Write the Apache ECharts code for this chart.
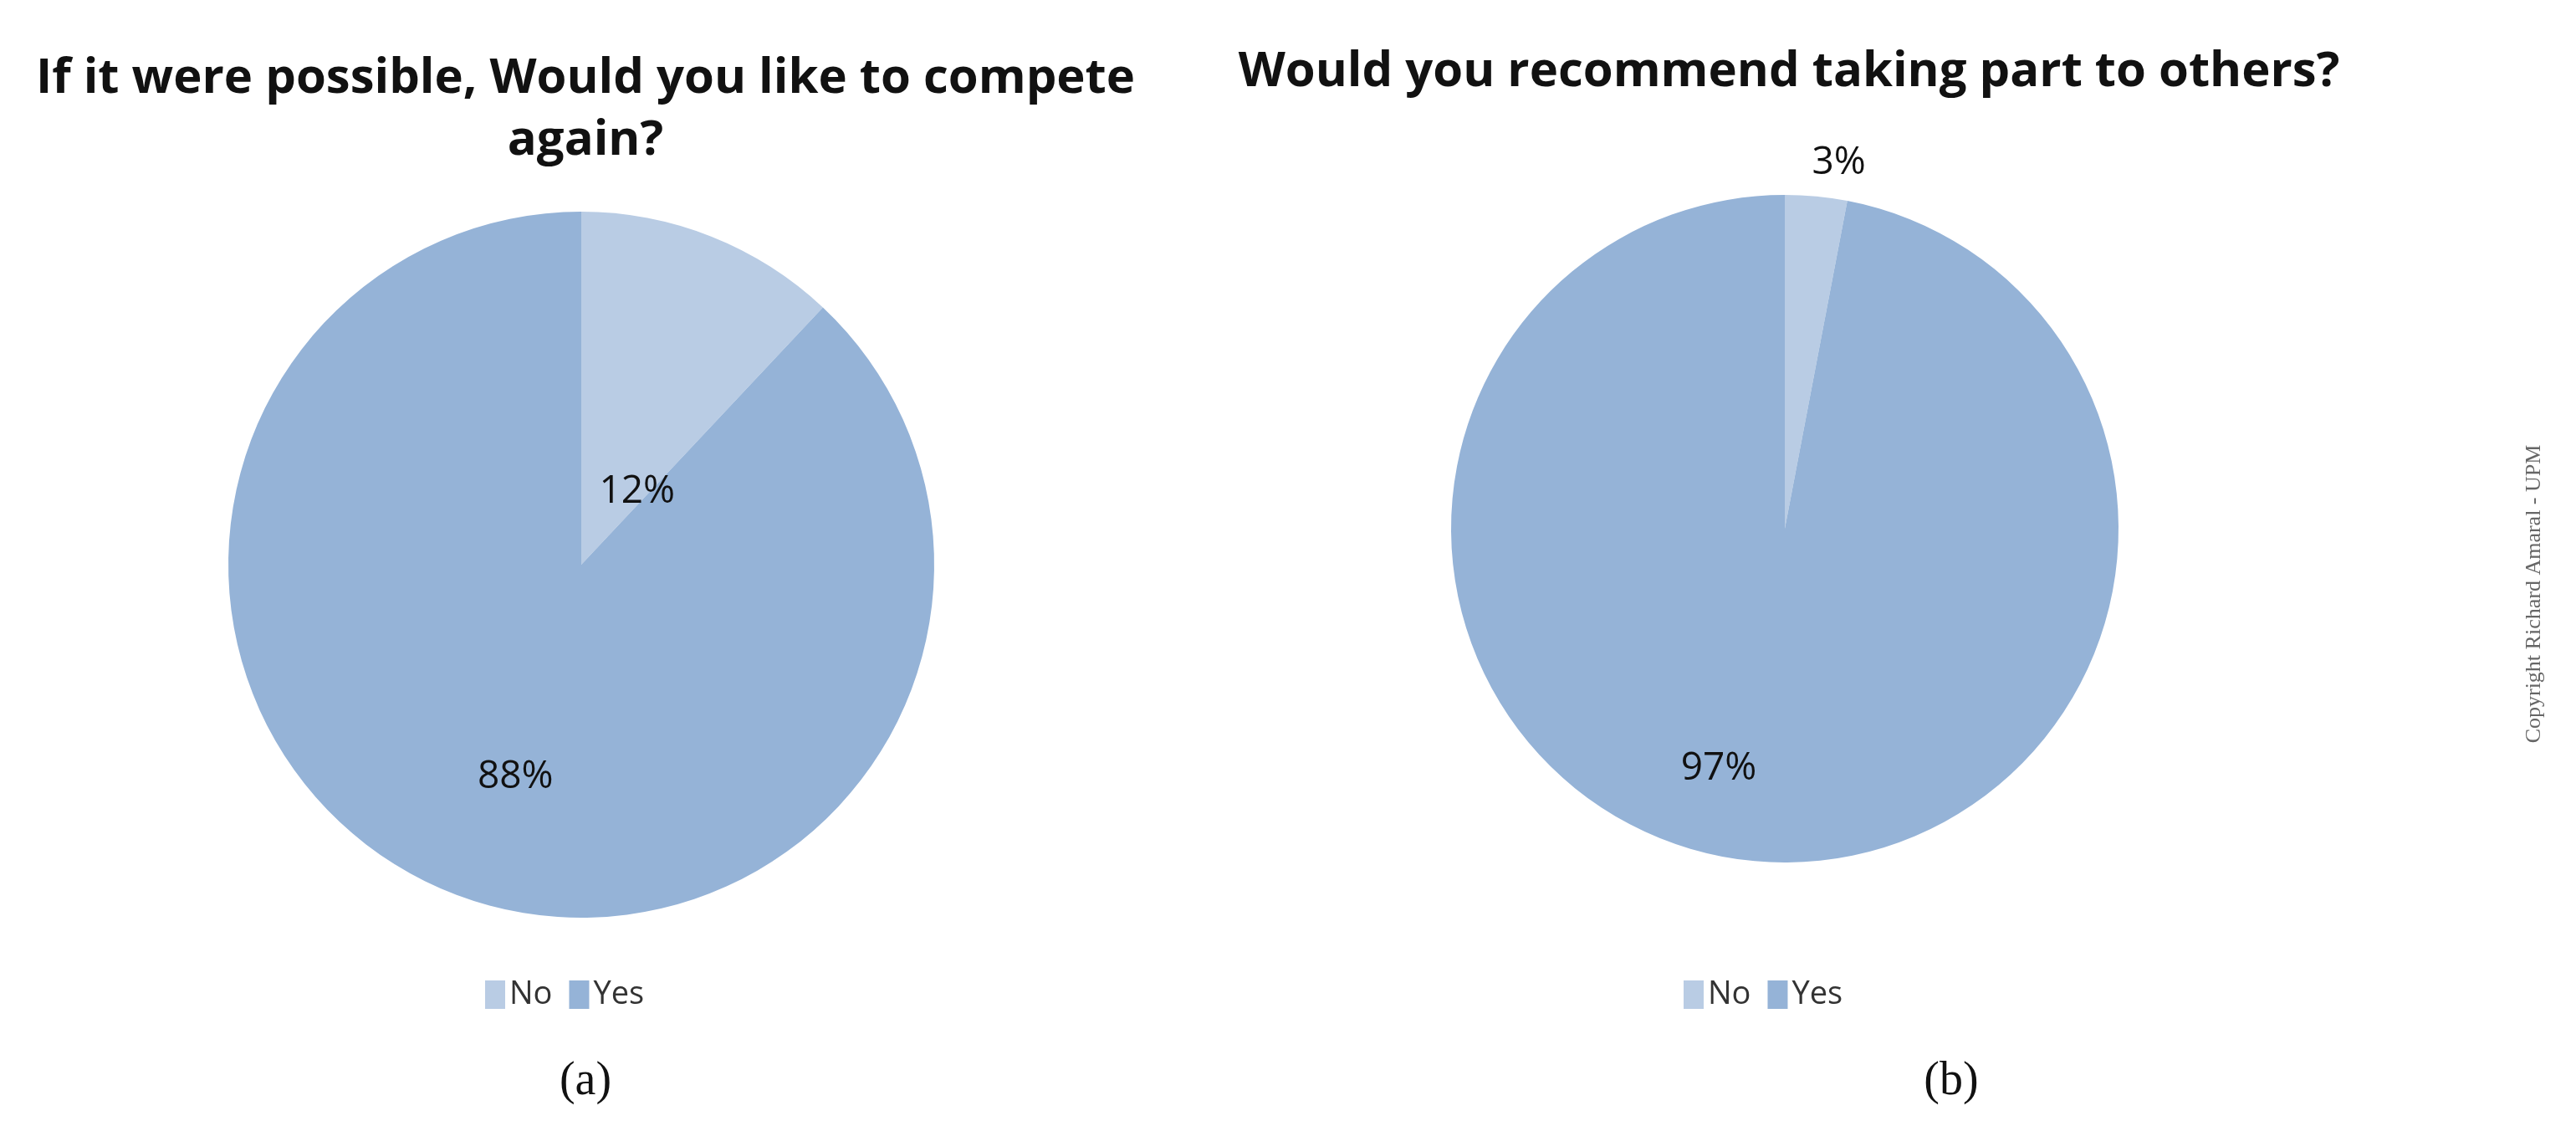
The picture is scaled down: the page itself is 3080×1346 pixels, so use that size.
<!DOCTYPE html>
<html lang="en" style="height: 100%">
<head>
  <meta charset="utf-8">
</head>
<body style="height: 100%; margin: 0; background: #fff">
  <div id="container" style="height: 100%"></div>
  <script type="text/javascript" src="https://cdn.jsdelivr.net/npm/echarts@6/dist/echarts.min.js"></script>
  <script type="text/javascript">
    var categories = ['No', 'Yes'];
    var competeAgain = [12, 88];
    var recommend = [3, 97];
    var colors = ['#b9cce4', '#95b3d7'];

    var dom = document.getElementById('container');
    var myChart = echarts.init(dom, null, { renderer: 'canvas' });

    var labelFont = { fontFamily: 'Open Sans', fontSize: 46, color: '#111' };

    function buildData(values, offsets, positions) {
      return categories.map(function (name, i) {
        return {
          name: name,
          value: values[i],
          itemStyle: { color: colors[i] },
          label: Object.assign({ show: true, position: positions[i], offset: offsets[i], formatter: '{c}%' }, labelFont)
        };
      });
    }

    var option = {
      animation: false,
      title: [
        {
          text: 'If it were possible, Would you like to compete\nagain?',
          left: 695, top: 52, textAlign: 'center',
          textStyle: { fontFamily: 'Open Sans', fontWeight: 'bold', fontSize: 58, lineHeight: 74, color: '#111' }
        },
        {
          text: 'Would you recommend taking part to others?',
          left: 2134, top: 52, textAlign: 'center',
          textStyle: { fontFamily: 'Open Sans', fontWeight: 'bold', fontSize: 58, color: '#111' }
        },
        {
          text: '(a)', left: 695, top: 1260, textAlign: 'center',
          textStyle: { fontFamily: 'Liberation Serif', fontWeight: 'normal', fontSize: 56, color: '#111' }
        },
        {
          text: '(b)', left: 2328, top: 1260, textAlign: 'center',
          textStyle: { fontFamily: 'Liberation Serif', fontWeight: 'normal', fontSize: 56, color: '#111' }
        }
      ],
      graphic: [{
        type: 'text', x: 3030, y: 710, rotation: Math.PI / 2,
        style: { text: 'Copyright Richard Amaral - UPM', font: '26px "Liberation Serif"', fill: '#666', align: 'center', verticalAlign: 'middle' }
      }],
      legend: [
        {
          data: categories, left: 575, top: 1165, orient: 'horizontal',
          itemWidth: 24, itemHeight: 34, itemGap: 20, icon: 'rect',
          textStyle: { fontFamily: 'Open Sans', fontSize: 38, color: '#333' }
        },
        {
          data: categories, left: 2008, top: 1165, orient: 'horizontal',
          itemWidth: 24, itemHeight: 34, itemGap: 20, icon: 'rect',
          textStyle: { fontFamily: 'Open Sans', fontSize: 38, color: '#333' }
        }
      ],
      series: [
        {
          type: 'pie', center: [695, 675], radius: 422,
          startAngle: 90, clockwise: true,
          labelLine: { show: false },
          data: buildData(competeAgain, [[-12, 112], [0, 55]], ['inside', 'inside'])
        },
        {
          type: 'pie', center: [2134, 632], radius: 399,
          startAngle: 90, clockwise: true,
          labelLine: { show: false, length: 0, length2: 0 },
          data: buildData(recommend, [[-10, -40], [-60, 85]], ['outside', 'inside'])
        }
      ]
    };
    myChart.setOption(option);
    window.addEventListener('resize', myChart.resize);
  </script>
</body>
</html>
